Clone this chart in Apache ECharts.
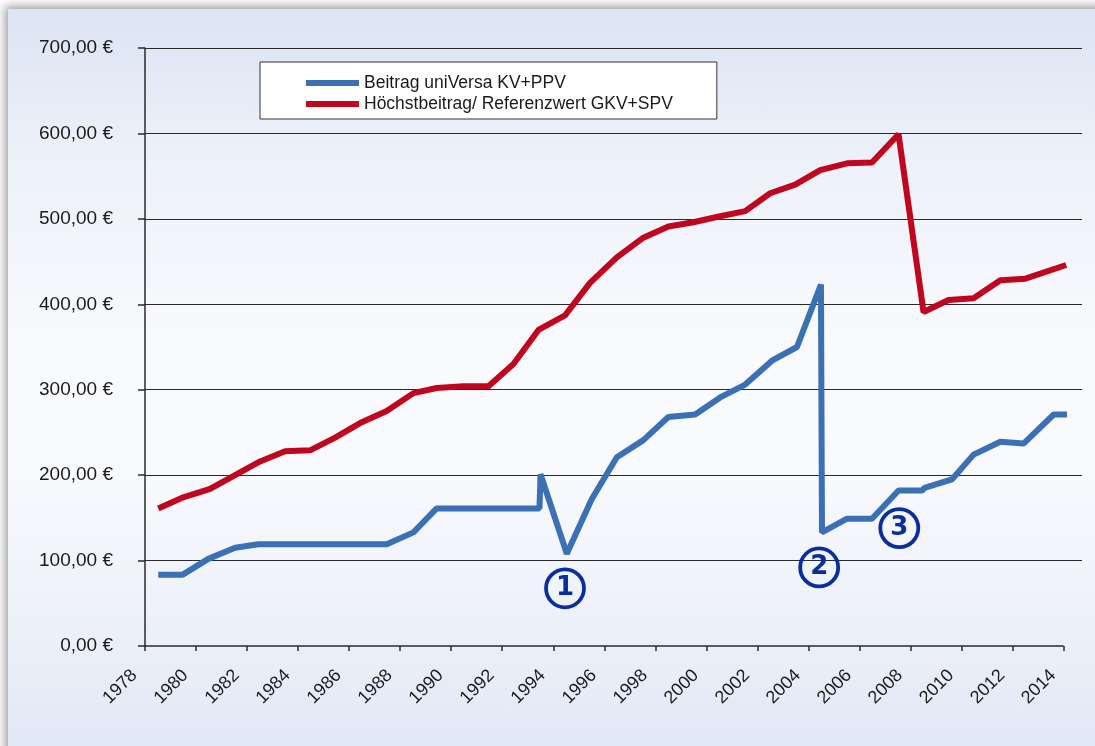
<!DOCTYPE html>
<html>
<head>
<meta charset="utf-8">
<script src="https://cdn.jsdelivr.net/npm/echarts@6/dist/echarts.min.js"></script>
<style>
  html, body { margin: 0; padding: 0; background: #ffffff; }
  #panel {
    position: absolute; left: 8px; top: 9px; width: 1100px; height: 760px;
    background: linear-gradient(to bottom, #dce4f4 0%, #edf1f9 20%, #f9fafd 45%, #f9fafd 60%, #ecf0f9 82%, #dfe6f5 100%);
    box-shadow: 0 0 9px 3px rgba(0,0,0,0.38);
  }
  #chart { position: absolute; left: 0; top: 0; width: 1095px; height: 746px; }
</style>
</head>
<body>
<div id="panel"></div>
<div id="chart"></div>
<script>
// Beitrag uniVersa KV+PPV (x = Jahr, Position auf der Datumsachse)
const blueYears = [1978.52, 1979.48, 1980.48, 1981.53, 1982.44, 1987.47, 1988.52, 1989.43, 1993.46, 1993.5,
  1994.53, 1995.51, 1996.49, 1997.53, 1998.51, 1999.56, 2000.54, 2001.52, 2002.57, 2003.55,
  2004.49, 2004.53, 2005.51, 2006.49, 2007.53, 2008.45, 2008.55, 2009.62, 2010.47, 2011.52,
  2012.43, 2013.61, 2014.13];
const blueValues = [83.5, 83.5, 102, 115, 119, 119, 133, 161, 161, 201,
  108, 172, 221, 241, 268, 271, 291, 306, 334, 350,
  423, 133, 149, 149, 182, 182, 185, 195, 224, 239,
  237, 271, 271];

// Höchstbeitrag/ Referenzwert GKV+SPV
const redYears = [1978.52, 1979.5, 1980.55, 1981.53, 1982.51, 1983.49, 1984.47, 1985.45, 1986.43, 1987.47,
  1988.52, 1989.43, 1990.48, 1991.46, 1992.44, 1993.42, 1994.46, 1995.44, 1996.49, 1997.53,
  1998.51, 1999.49, 2000.54, 2001.52, 2002.5, 2003.48, 2004.46, 2005.51, 2006.49, 2007.53,
  2008.51, 2009.49, 2010.47, 2011.52, 2012.5, 2014.1];
const redValues = [161, 174, 184, 200, 216, 228, 229, 244, 261, 275,
  296, 302, 304, 304, 330, 370, 387, 425, 455, 478,
  491, 496, 503, 509, 530, 540, 557, 565, 566, 599,
  391, 405, 407, 428, 430, 446];

const xTicks = [1978, 1980, 1982, 1984, 1986, 1988, 1990, 1992, 1994, 1996,
  1998, 2000, 2002, 2004, 2006, 2008, 2010, 2012, 2014];

// Markierungen ①②③
const markNames = ['1', '2', '3'];
const markCoords = [[1994.46, 67.5], [2004.42, 92], [2007.56, 138]];

const seriesNames = ['Beitrag uniVersa KV+PPV', 'Höchstbeitrag/ Referenzwert GKV+SPV'];

function zip(xs, ys) {
  return xs.map((x, i) => [x, ys[i]]);
}

let chart = echarts.init(document.getElementById('chart'));
let option = {
  animation: false,
  backgroundColor: 'transparent',
  textStyle: { fontFamily: '"Liberation Sans", Arial, sans-serif' },
  grid: { left: 145, right: 13, top: 48, bottom: 100 },
  legend: {
    orient: 'vertical',
    left: 260,
    top: 62,
    icon: 'rect',
    itemWidth: 53,
    itemHeight: 6,
    itemGap: 3,
    padding: [12, 44, 6, 46],
    backgroundColor: '#ffffff',
    borderColor: '#333333',
    borderWidth: 1,
    textStyle: { fontSize: 17.5, color: '#1a1a1a', fontFamily: '"Liberation Sans", Arial, sans-serif' },
    data: seriesNames
  },
  xAxis: {
    type: 'value',
    min: 1978,
    max: 2014.72,
    interval: 2,
    axisLine: { show: false },
    axisTick: { show: true, length: 5, customValues: xTicks, lineStyle: { color: '#2a2a2a', width: 1.5 } },
    axisLabel: {
      customValues: xTicks,
      rotate: 45,
      margin: 16,
      padding: [0, 15, 0, 0],
      fontSize: 18,
      color: '#1a1a1a',
      formatter: v => String(v)
    },
    splitLine: { show: false }
  },
  yAxis: {
    type: 'value',
    min: 0,
    max: 700,
    interval: 100,
    axisLine: { show: true, lineStyle: { color: '#2a2a2a', width: 1.5 } },
    axisTick: { show: true, length: 7, lineStyle: { color: '#2a2a2a', width: 1.5 } },
    axisLabel: {
      margin: 32,
      fontSize: 19,
      color: '#1a1a1a',
      formatter: v => v.toFixed(2).replace('.', ',') + ' €'
    },
    splitLine: { show: true, showMinLine: false, lineStyle: { color: '#2a2a2a', width: 1.2 } }
  },
  series: [
    {
      name: seriesNames[0],
      type: 'line',
      data: zip(blueYears, blueValues),
      showSymbol: false,
      color: '#3b70b5',
      lineStyle: { width: 6, color: '#3b70b5' },
      z: 3,
      markLine: {
        silent: true,
        symbol: 'none',
        label: { show: false },
        lineStyle: { color: '#2a2a2a', width: 1.5, type: 'solid' },
        data: [[{ coord: [xTicks[0], 0] }, { coord: [xTicks[xTicks.length - 1], 0] }]]
      },
      markPoint: {
        silent: true,
        symbol: 'circle',
        symbolSize: 38,
        itemStyle: { color: 'rgba(255,255,255,0)', borderColor: '#0b2e9e', borderWidth: 3.8 },
        label: {
          show: true,
          position: 'inside',
          formatter: p => p.name,
          fontSize: 26,
          fontWeight: 'bold',
          color: '#0b2e9e',
          fontFamily: '"DejaVu Sans", Verdana, sans-serif'
        },
        data: markNames.map((n, i) => ({ name: n, coord: markCoords[i] }))
      }
    },
    {
      name: seriesNames[1],
      type: 'line',
      data: zip(redYears, redValues),
      showSymbol: false,
      color: '#c0061f',
      lineStyle: { width: 6, color: '#c0061f' },
      z: 4
    }
  ]
};
option && chart.setOption(option);
</script>
</body>
</html>
